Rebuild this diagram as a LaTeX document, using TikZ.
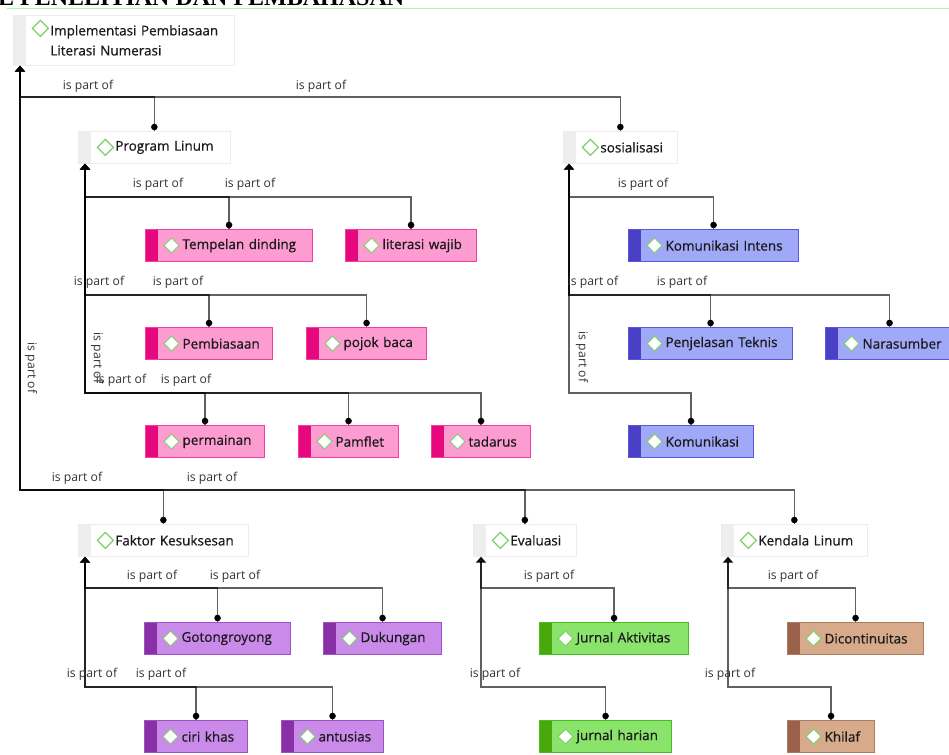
\documentclass[tikz,border=0pt]{standalone}
\usepackage{fontspec}
\setmainfont{Open Sans}
\newfontfamily\nodefont[FakeBold=0.6]{Open Sans}
\newfontfamily\titlefont{Liberation Serif}
\usetikzlibrary{arrows.meta}
\definecolor{pinkF}{HTML}{FC9CD0}
\definecolor{pinkS}{HTML}{E8087E}
\definecolor{pinkB}{HTML}{EE40A2}
\definecolor{blueF}{HTML}{A0A8F8}
\definecolor{blueS}{HTML}{4A40C8}
\definecolor{blueB}{HTML}{5858DA}
\definecolor{violF}{HTML}{C98AEA}
\definecolor{violS}{HTML}{8A30A6}
\definecolor{violB}{HTML}{9C52C4}
\definecolor{grnF}{HTML}{8AE46C}
\definecolor{grnS}{HTML}{48A80C}
\definecolor{grnB}{HTML}{48BC22}
\definecolor{brnF}{HTML}{D6AA8A}
\definecolor{brnS}{HTML}{9A604A}
\definecolor{brnB}{HTML}{AA7C62}
\definecolor{grayS}{HTML}{EEEEEE}
\definecolor{grayB}{HTML}{ECECEC}
\definecolor{diaG}{HTML}{7DCF6A}
\definecolor{txt}{HTML}{1A1A1A}
\definecolor{lbltxt}{HTML}{333333}
\newcommand\ntxt[1]{\hspace*{37pt}#1}
\begin{document}
\begin{tikzpicture}[x=1pt,y=-1pt,
  base/.style={rectangle, anchor=north west, inner sep=0pt, minimum height=32pt,
    align=left, font=\nodefont\fontsize{13.5}{20}\selectfont, text=txt},
  colbox/.style n args={3}{base, draw=#3, line width=1.1pt, fill=#1,
    path picture={
      \fill[#2] (path picture bounding box.north west) rectangle ([xshift=12.5pt]path picture bounding box.south west);
      \draw[diaG, fill=white, line width=0.9pt] ([xshift=26pt]path picture bounding box.west)
        +(-7.5pt,0) -- +(0,7.5pt) -- +(7.5pt,0) -- +(0,-7.5pt) -- cycle;}},
  pinkbox/.style={colbox={pinkF}{pinkS}{pinkB}},
  bluebox/.style={colbox={blueF}{blueS}{blueB}},
  violbox/.style={colbox={violF}{violS}{violB}},
  grnbox/.style={colbox={grnF}{grnS}{grnB}},
  brnbox/.style={colbox={brnF}{brnS}{brnB}},
  graybox/.style={base, draw=grayB, line width=0.7pt, fill=white,
    path picture={
      \fill[grayS] (path picture bounding box.north west) rectangle ([xshift=13pt]path picture bounding box.south west);
      \draw[diaG, fill=white, line width=1.2pt] ([xshift=27pt,yshift=-#1]path picture bounding box.north west)
        +(-8pt,0) -- +(0,8pt) -- +(8pt,0) -- +(0,-8pt) -- cycle;}},
  graybox/.default=16pt,
  conn/.style={line width=1.6pt, draw=black, opacity=0.62, -{Triangle[width=10pt,length=6pt]}},
  lbl/.style={font=\fontsize{12.2}{14}\selectfont, text=lbltxt, inner sep=0pt},
  vlbl/.style={lbl, rotate=-90}
]
\useasboundingbox (0,0) rectangle (949,754);
\fill[white] (0,0) rectangle (949,754);

% cut-off heading
\begin{scope}
\clip (0,0) rectangle (949,6);
\node[anchor=base west, inner sep=0pt, font=\titlefont\bfseries\fontsize{24}{26}\selectfont] (title) at (-2,5.5) {E PENELITIAN DAN PEMBAHASAN};
\end{scope}
\draw[green!35, line width=0.9pt] (7,8) -- (949,8);

% gray nodes
\node[graybox=13pt, minimum height=50pt, text width=221pt] (root) at (13,15)
  {\ntxt{Implementasi Pembiasaan}\\\ntxt{Literasi Numerasi}};
\node[graybox, text width=152pt] (pl) at (78,131) {\ntxt{Program Linum}};
\node[graybox, text width=114pt] (so) at (563,131) {\ntxt{sosialisasi}};
\node[graybox, text width=170pt] (fk) at (78,524) {\ntxt{Faktor Kesuksesan}};
\node[graybox, text width=103pt] (ev) at (473,524) {\ntxt{Evaluasi}};
\node[graybox, text width=146pt] (kl) at (721,524) {\ntxt{Kendala Linum}};

% Program Linum children
\node[pinkbox, text width=167pt] (tem) at (145,229) {\ntxt{Tempelan dinding}};
\node[pinkbox, text width=131pt] (lit) at (345,229) {\ntxt{literasi wajib}};
\node[pinkbox, text width=127pt] (pem) at (145,327) {\ntxt{Pembiasaan}};
\node[pinkbox, text width=120pt] (poj) at (306,327) {\ntxt{pojok baca}};
\node[pinkbox, text width=119pt] (per) at (145,425) {\ntxt{permainan}};
\node[pinkbox, text width=100pt] (pam) at (298,425) {\ntxt{Pamflet}};
\node[pinkbox, text width=99pt] (tad) at (431,425) {\ntxt{tadarus}};

% sosialisasi children
\node[bluebox, text width=170pt] (ki) at (628,229) {\ntxt{Komunikasi Intens}};
\node[bluebox, text width=164pt] (pt) at (628,327) {\ntxt{Penjelasan Teknis}};
\node[bluebox, text width=128pt] (na) at (825,327) {\ntxt{Narasumber}};
\node[bluebox, text width=125pt] (ko) at (628,425) {\ntxt{Komunikasi}};

% Faktor children
\node[violbox, text width=146pt] (go) at (144,622) {\ntxt{Gotongroyong}};
\node[violbox, text width=118pt] (du) at (323,622) {\ntxt{Dukungan}};
\node[violbox, text width=103pt] (ci) at (144,720) {\ntxt{ciri khas}};
\node[violbox, text width=102pt] (an) at (281,720) {\ntxt{antusias}};

% Evaluasi children
\node[grnbox, text width=149pt] (ja) at (539,622) {\ntxt{Jurnal Aktivitas}};
\node[grnbox, text width=132pt] (jh) at (539,720) {\ntxt{jurnal harian}};

% Kendala children
\node[brnbox, text width=136pt] (di) at (787,622) {\ntxt{Dicontinuitas}};
\node[brnbox, text width=87pt] (kh) at (787,720) {\ntxt{Khilaf}};

% trunks and rows
\coordinate (rootT) at ([xshift=7pt]root.south west);
\coordinate (plT) at ([xshift=7pt]pl.south west);
\coordinate (soT) at ([xshift=6pt]so.south west);
\coordinate (fkT) at ([xshift=7pt]fk.south west);
\coordinate (evT) at ([xshift=8pt]ev.south west);
\coordinate (klT) at ([xshift=7pt]kl.south west);
\coordinate (yA) at (0,97);
\coordinate (yB) at (0,490);
\coordinate (y1) at (0,197);
\coordinate (y2) at (0,295);
\coordinate (y3) at (0,393);
\coordinate (y4) at (0,588);
\coordinate (y5) at (0,687);

% connectors
\foreach \c in {pl,so} \draw[conn] (\c.north) |- (rootT |- yA) -- (rootT);
\foreach \c in {fk,ev,kl} \draw[conn] (\c.north) |- (rootT |- yB) -- (rootT);
\foreach \c in {tem,lit} \draw[conn] (\c.north) |- (plT |- y1) -- (plT);
\foreach \c in {pem,poj} \draw[conn] (\c.north) |- (plT |- y2) -- (plT);
\foreach \c in {per,pam,tad} \draw[conn] (\c.north) |- (plT |- y3) -- (plT);
\draw[conn] (ki.north) |- (soT |- y1) -- (soT);
\foreach \c in {pt,na} \draw[conn] (\c.north) |- (soT |- y2) -- (soT);
\draw[conn] (ko.north) |- (soT |- y3) -- (soT);
\foreach \c in {go,du} \draw[conn] (\c.north) |- (fkT |- y4) -- (fkT);
\foreach \c in {ci,an} \draw[conn] (\c.north) |- (fkT |- y5) -- (fkT);
\draw[conn] (ja.north) |- (evT |- y4) -- (evT);
\draw[conn] (jh.north) |- (evT |- y5) -- (evT);
\draw[conn] (di.north) |- (klT |- y4) -- (klT);
\draw[conn] (kh.north) |- (klT |- y5) -- (klT);

% end dots
\foreach \c in {pl,so,fk,ev,kl,tem,lit,pem,poj,per,pam,tad,ki,pt,na,ko,go,du,ci,an,ja,jh,di,kh}
  \fill[black] ([yshift=4pt]\c.north) circle (3.3pt);

% labels
\node[lbl] (l1) at (88,86) {is part of};
\node[lbl] (l2) at (321,86) {is part of};
\node[vlbl] (l3) at (31,368) {is part of};
\node[lbl] (l4) at (77,478) {is part of};
\node[lbl] (l5) at (212,478) {is part of};

\node[lbl] (l6) at (158,184) {is part of};
\node[lbl] (l7) at (250,184) {is part of};
\node[lbl] (l8) at (99,282) {is part of};
\node[lbl] (l9) at (178,282) {is part of};
\node[lbl] (l10) at (121,380) {is part of};
\node[lbl] (l11) at (186,380) {is part of};
\node[vlbl] (l12) at (97,358) {is part of};

\node[lbl] (l13) at (643,184) {is part of};
\node[lbl] (l14) at (593,282) {is part of};
\node[lbl] (l15) at (682,282) {is part of};
\node[vlbl] (l16) at (582,357) {is part of};

\node[lbl] (l17) at (152,576) {is part of};
\node[lbl] (l18) at (235,576) {is part of};
\node[lbl] (l19) at (92,674) {is part of};
\node[lbl] (l20) at (161,674) {is part of};

\node[lbl] (l21) at (549,576) {is part of};
\node[lbl] (l22) at (495,674) {is part of};
\node[lbl] (l23) at (793,576) {is part of};
\node[lbl] (l24) at (730,674) {is part of};
\end{tikzpicture}
\end{document}
